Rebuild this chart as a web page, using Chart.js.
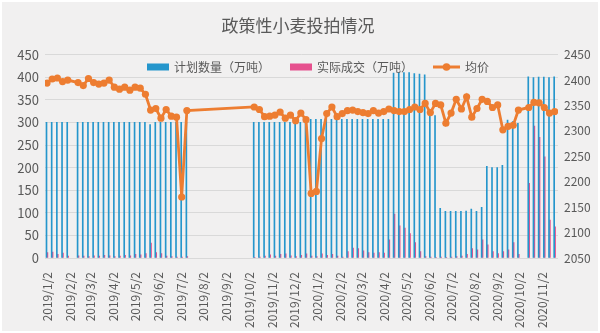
<!DOCTYPE html>
<html lang="zh-CN">
<head>
<meta charset="utf-8">
<title>政策性小麦投拍情况</title>
<script src="https://cdn.jsdelivr.net/npm/chart.js@4.4.1/dist/chart.umd.min.js"></script>
<style>
  html, body { margin: 0; padding: 0; background: #fff; }
  canvas { display: block; }
</style>
</head>
<body>
<canvas id="chart" width="600" height="333"></canvas>
<script>
// 每周投拍日期
const auctionDates = [
  '2019/1/2','2019/1/9','2019/1/16','2019/1/23','2019/1/30',
  '2019/2/13','2019/2/20','2019/2/27','2019/3/6','2019/3/13','2019/3/20','2019/3/27',
  '2019/4/3','2019/4/10','2019/4/17','2019/4/24','2019/5/1','2019/5/8','2019/5/15',
  '2019/5/22','2019/5/29','2019/6/5','2019/6/12','2019/6/19','2019/6/26','2019/7/3','2019/7/10',
  '2019/10/9','2019/10/16','2019/10/23','2019/10/30','2019/11/6','2019/11/13','2019/11/20','2019/11/27',
  '2019/12/4','2019/12/11','2019/12/18','2019/12/25',
  '2020/1/1','2020/1/8','2020/1/15','2020/1/22','2020/1/29',
  '2020/2/5','2020/2/12','2020/2/19','2020/2/26',
  '2020/3/4','2020/3/11','2020/3/18','2020/3/25',
  '2020/4/1','2020/4/8','2020/4/15','2020/4/22','2020/4/29',
  '2020/5/6','2020/5/13','2020/5/20','2020/5/27',
  '2020/6/3','2020/6/10','2020/6/17','2020/6/24',
  '2020/7/1','2020/7/8','2020/7/15','2020/7/22','2020/7/29',
  '2020/8/5','2020/8/12','2020/8/19','2020/8/26',
  '2020/9/2','2020/9/9','2020/9/16','2020/9/23','2020/9/30',
  '2020/10/14','2020/10/21','2020/10/28','2020/11/4','2020/11/11','2020/11/18'
];

// 计划数量（万吨）
const planAmount = [
  300,300,300,300,300,
  300,300,300,300,300,300,300,
  300,300,300,300,300,300,300,
  295,300,300,300,300,300,300,300,
  300,300,300,300,300,300,300,300,
  300,300,300,307,
  307,307,307,307,307,
  307,307,307,307,
  307,307,307,307,
  307,307,409,410,410,
  410,408,407,405,
  318,315,110,103,
  103,103,103,104,108,
  103,112,203,200,
  200,205,305,302,298,
  401,399,400,400,399,401
];

// 实际成交（万吨）
const dealAmount = [
  12,13,8,11,4,
  5,4,3,5,4,6,5,
  3,4,6,5,8,7,10,
  33,12,10,4,3,2,2,3,
  1,2,4,7,4,8,9,5,
  3,6,9,4,
  3,9,6,8,4,
  2,14,22,21,
  16,12,11,12,
  11,40,97,71,66,
  54,34,14,3,
  2,1,2,1,
  2,3,4,8,21,
  18,40,29,14,
  10,14,18,34,8,
  165,292,267,224,84,69
];

// 均价（元/吨）
const avgPrice = [
  2394,2402,2404,2397,2400,
  2395,2389,2403,2395,2392,2394,2400,
  2386,2382,2386,2380,2386,2384,2372,
  2341,2344,2325,2342,2329,2327,2170,2340,
  2347,2342,2328,2329,2331,2337,2325,2331,
  2320,2335,2322,2177,
  2181,2285,2334,2347,2328,
  2334,2340,2341,2338,
  2336,2334,2340,2335,
  2338,2343,2340,2338,2338,
  2342,2347,2342,2354,
  2336,2354,2351,2315,
  2335,2362,2343,2367,2327,
  2344,2362,2358,2346,
  2351,2302,2309,2311,2341,
  2346,2356,2355,2346,2335,2338
];

// 横轴刻度标签（按月）
const monthTicks = [
  '2019/1/2','2019/2/2','2019/3/2','2019/4/2','2019/5/2','2019/6/2','2019/7/2','2019/8/2',
  '2019/9/2','2019/10/2','2019/11/2','2019/12/2','2020/1/2','2020/2/2','2020/3/2','2020/4/2',
  '2020/5/2','2020/6/2','2020/7/2','2020/8/2','2020/9/2','2020/10/2','2020/11/2'
];

// 以 2019/1/2 为起点的天数
const BASE = Date.UTC(2019, 0, 2);
function dayOf(s) {
  const [y, m, d] = s.split('/').map(Number);
  return (Date.UTC(y, m - 1, d) - BASE) / 86400000;
}

const xs = auctionDates.map(dayOf);
const tickDays = monthTicks.map(dayOf);
const tickText = new Map(tickDays.map((d, i) => [d, monthTicks[i]]));

const FONT = "'Noto Sans CJK SC', 'Noto Sans', sans-serif";
const TEXT = '#595959';
const BLUE = '#2596cc';
const PINK = '#e6508e';
const ORANGE = '#ed7d31';

const decor = {
  id: 'decor',
  beforeDraw(c) {
    const g = c.ctx;
    g.save();
    g.fillStyle = '#ffffff';
    g.fillRect(0, 0, c.width, c.height);
    g.fillStyle = '#f1f0f0';
    g.fillRect(2, 2, c.width - 4, c.height - 4);
    g.restore();
  },
  afterDraw(c) {
    const g = c.ctx;
    g.save();
    g.fillStyle = TEXT;
    g.textBaseline = 'middle';
    g.textAlign = 'center';
    g.font = '17px ' + FONT;
    g.fillText('政策性小麦投拍情况', 298, 26);

    // 图例
    g.font = '12px ' + FONT;
    g.textAlign = 'left';
    const y = 67;
    let x = 147;
    const order = [1, 2, 0];
    order.forEach(idx => {
      const ds = c.data.datasets[idx];
      if (ds.type === 'line') {
        g.strokeStyle = ds.borderColor;
        g.lineWidth = 3;
        g.beginPath();
        g.moveTo(x, y);
        g.lineTo(x + 27, y);
        g.stroke();
        g.fillStyle = ds.borderColor;
        g.beginPath();
        g.arc(x + 13.5, y, 3.8, 0, Math.PI * 2);
        g.fill();
        x += 27 + 5;
      } else {
        g.fillStyle = ds.backgroundColor;
        g.fillRect(x, y - 3.5, 22, 7);
        x += 22 + 5;
      }
      g.fillStyle = TEXT;
      g.fillText(ds.label, x, y + 0.5);
      x += g.measureText(ds.label).width + 20;
    });
    g.restore();
  }
};

new Chart(document.getElementById('chart'), {
  type: 'bar',
  data: {
    datasets: [
      {
        type: 'line',
        label: '均价',
        data: xs.map((x, i) => ({ x, y: avgPrice[i] })),
        yAxisID: 'y1',
        borderColor: ORANGE,
        backgroundColor: ORANGE,
        borderWidth: 2.8,
        pointRadius: 3.6,
        pointBackgroundColor: ORANGE,
        pointBorderColor: ORANGE,
        pointBorderWidth: 0,
        tension: 0,
        order: 0
      },
      {
        label: '计划数量（万吨）',
        data: xs.map((x, i) => ({ x, y: planAmount[i] })),
        yAxisID: 'y',
        backgroundColor: BLUE,
        barThickness: 1.0,
        order: 1
      },
      {
        label: '实际成交（万吨）',
        data: xs.map((x, i) => ({ x, y: dealAmount[i] })),
        yAxisID: 'y',
        backgroundColor: PINK,
        barThickness: 0.9,
        order: 1
      }
    ]
  },
  options: {
    responsive: false,
    animation: false,
    layout: { padding: { top: 54.6, left: 0, right: 0, bottom: 0 } },
    plugins: {
      legend: { display: false },
      title: { display: false },
      tooltip: { enabled: false }
    },
    scales: {
      x: {
        type: 'linear',
        min: -2.7,
        max: 690.5,
        offset: false,
        grid: { display: false },
        border: { display: false },
        afterBuildTicks: s => { s.ticks = tickDays.map(v => ({ value: v })); },
        afterFit: s => { s.height = 75; },
        ticks: {
          autoSkip: false,
          minRotation: 90,
          maxRotation: 90,
          padding: 6,
          color: TEXT,
          font: { family: FONT, size: 12 },
          callback: v => tickText.get(v) ?? ''
        }
      },
      y: {
        position: 'left',
        min: 0,
        max: 450,
        afterFit: s => { s.width = 45; },
        ticks: { stepSize: 50, padding: 6, color: TEXT, font: { family: FONT, size: 13 }, callback: v => String(v) },
        grid: { color: '#d9d9d9', drawTicks: false },
        border: { display: false }
      },
      y1: {
        position: 'right',
        min: 2050,
        max: 2450,
        afterFit: s => { s.width = 42; },
        ticks: { stepSize: 50, padding: 6, color: TEXT, font: { family: FONT, size: 12 }, callback: v => String(v) },
        grid: { drawOnChartArea: false, drawTicks: false },
        border: { display: false }
      }
    }
  },
  plugins: [decor]
});
</script>
</body>
</html>
